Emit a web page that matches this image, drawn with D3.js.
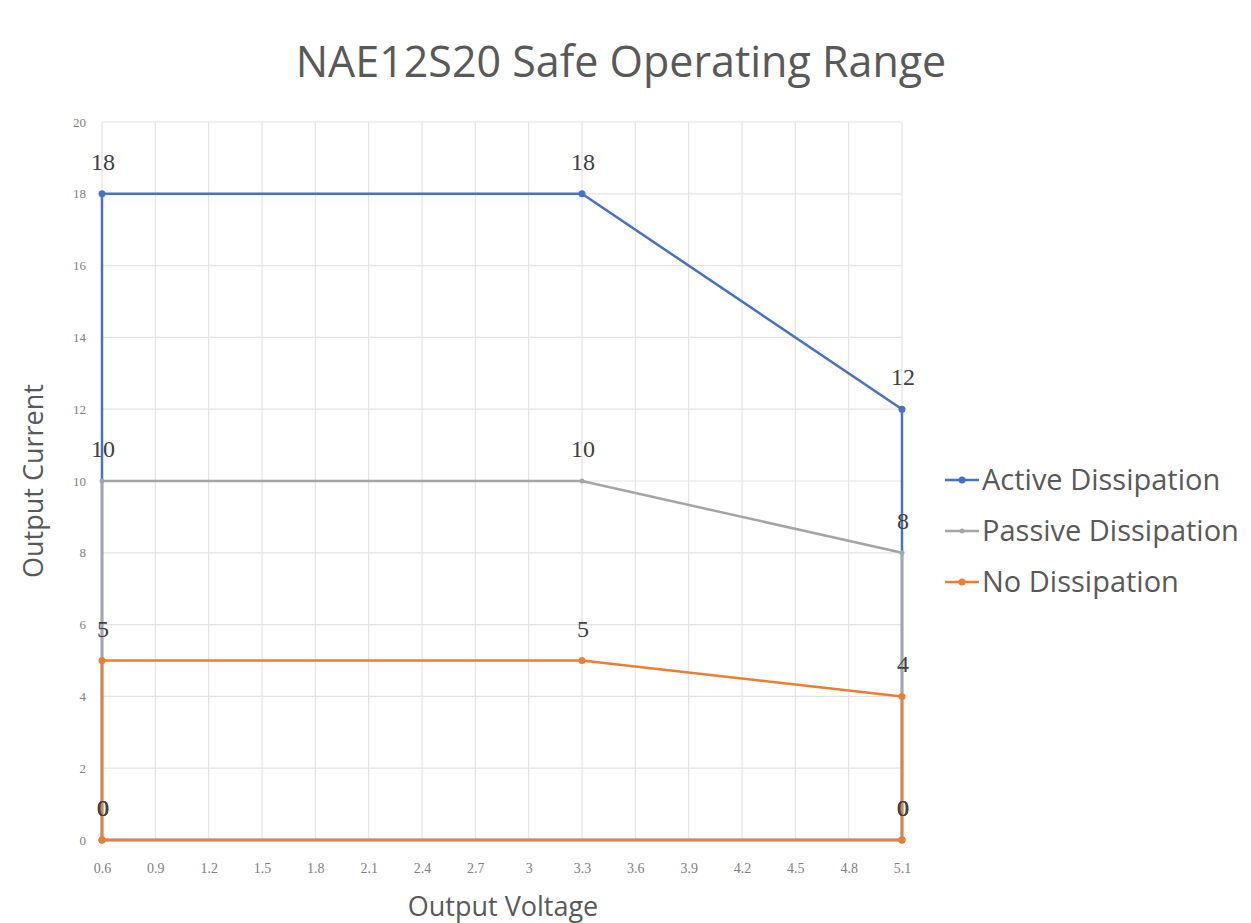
<!DOCTYPE html>
<html><head><meta charset="utf-8">
<script src="https://cdn.jsdelivr.net/npm/d3@7/dist/d3.min.js"></script>
<style>body{margin:0;background:#fff;} svg{display:block;}</style>
</head><body>
<svg id="chart" width="1251" height="923"></svg>
<script>
const xTicks = [0.6,0.9,1.2,1.5,1.8,2.1,2.4,2.7,3,3.3,3.6,3.9,4.2,4.5,4.8,5.1];
const yTicks = [0,2,4,6,8,10,12,14,16,18,20];
const seriesNames = ["Active Dissipation","Passive Dissipation","No Dissipation"];
const seriesColors = ["#4472C4","#A5A5A5","#ED7D31"];
const voltage = [0.6,0.6,3.3,5.1,5.1,0.6];
const activeCurrent = [0,18,18,12,0,0];
const passiveCurrent = [0,10,10,8,0,0];
const noneCurrent = [0,5,5,4,0,0];
const seriesValues = [activeCurrent, passiveCurrent, noneCurrent];

const svg = d3.select("#chart");
const pL=102,pR=902,pT=122,pB=840;
const x = d3.scaleLinear().domain([0.6,5.1]).range([pL,pR]);
const y = d3.scaleLinear().domain([0,20]).range([pB,pT]);

// grid
svg.append("g").selectAll("line").data(xTicks).join("line")
  .attr("x1",d=>x(d)).attr("x2",d=>x(d)).attr("y1",pT).attr("y2",pB)
  .attr("stroke","#e3e3e3").attr("stroke-width",1.2);
svg.append("g").selectAll("line").data(yTicks).join("line")
  .attr("x1",pL).attr("x2",pR).attr("y1",d=>y(d)).attr("y2",d=>y(d))
  .attr("stroke","#e3e3e3").attr("stroke-width",1.2);

// axes tick labels
const xAxis = d3.axisBottom(x).tickValues(xTicks).tickSize(0).tickPadding(0).tickFormat(d=>String(+d.toFixed(1)));
const gx = svg.append("g").attr("transform",`translate(0,${pB+33})`).call(xAxis);
gx.select(".domain").remove();
gx.selectAll("text").attr("font-family","Liberation Serif").attr("font-size",14).attr("fill","#808080").attr("dy",0);
const yAxis = d3.axisLeft(y).tickValues(yTicks).tickSize(0).tickPadding(0);
const gy = svg.append("g").attr("transform",`translate(${pL-16},0)`).call(yAxis);
gy.select(".domain").remove();
gy.selectAll("text").attr("font-family","Liberation Serif").attr("font-size",13).attr("fill","#808080");

// series
const line = d3.line().x(d=>x(d[0])).y(d=>y(d[1]));
seriesValues.forEach((vals,si)=>{
  const pts = voltage.map((v,i)=>[v,vals[i]]);
  svg.append("path").datum(pts).attr("d",line).attr("fill","none")
    .attr("stroke",seriesColors[si]).attr("stroke-width",2.5).attr("stroke-linejoin","round");
  svg.append("g").selectAll("circle").data(pts.slice(0,5)).join("circle")
    .attr("cx",d=>x(d[0])).attr("cy",d=>y(d[1])).attr("r",si===1?2.5:3.5).attr("fill",seriesColors[si]);
});
seriesValues.forEach((vals,si)=>{
  const pts = voltage.map((v,i)=>[v,vals[i]]);
  svg.append("g").selectAll("text").data(pts.slice(0,5)).join("text")
    .attr("x",d=>x(d[0])+1).attr("y",d=>y(d[1])-24).attr("text-anchor","middle")
    .attr("font-family","Liberation Serif").attr("font-size",24).attr("fill","#404040")
    .text(d=>d[1]);
});

// title
svg.append("text").attr("x",621).attr("y",77).attr("text-anchor","middle")
  .attr("font-family","Open Sans").attr("font-size",43).attr("fill","#595959")
  .text("NAE12S20 Safe Operating Range");
svg.append("text").attr("transform",`translate(43,481) rotate(-90)`).attr("text-anchor","middle")
  .attr("font-family","Open Sans").attr("font-size",27).attr("fill","#595959").text("Output Current");
svg.append("text").attr("x",503).attr("y",916).attr("text-anchor","middle")
  .attr("font-family","Open Sans").attr("font-size",27).attr("fill","#595959").text("Output Voltage");

// legend
const lg = svg.append("g").selectAll("g").data(seriesNames).join("g")
  .attr("transform",(d,i)=>`translate(945,${480+i*51})`);
lg.append("line").attr("x1",0).attr("x2",34).attr("y1",0).attr("y2",0)
  .attr("stroke",(d,i)=>seriesColors[i]).attr("stroke-width",2.5);
lg.append("circle").attr("cx",17).attr("cy",0).attr("r",(d,i)=>i===1?2.5:3.5).attr("fill",(d,i)=>seriesColors[i]);
lg.append("text").attr("x",37).attr("y",10).attr("font-family","Open Sans").attr("font-size",29)
  .attr("fill","#595959").text(d=>d);
</script>
</body></html>
